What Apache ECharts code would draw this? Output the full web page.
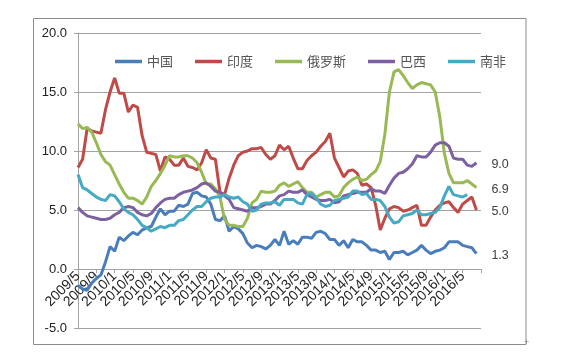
<!DOCTYPE html>
<html><head><meta charset="utf-8">
<script src="https://cdn.jsdelivr.net/npm/echarts@6/dist/echarts.min.js"></script>
<style>html,body{margin:0;padding:0;background:#fff}#c{width:569px;height:358px}</style>
</head><body><div id="c"></div>
<script>
// monthly categories 2009/5 .. 2016/9 (last one only closes the axis)
const startYear = 2009, startMonth = 5, monthCount = 89;
const months = [];
for (let k = 0; k < monthCount; k++) {
  const m = startMonth - 1 + k;
  months.push((startYear + Math.floor(m / 12)) + '/' + (m % 12 + 1));
}
const tickLabels = ['2009/5','2009/9','2010/1','2010/5','2010/9','2011/1','2011/5','2011/9',
  '2012/1','2012/5','2012/9','2013/1','2013/5','2013/9','2014/1','2014/5','2014/9',
  '2015/1','2015/5','2015/9','2016/1','2016/5'];
const yTicks = [-5, 0, 5, 10, 15, 20];

const china = [-1.4,-1.7,-1.8,-1.2,-0.8,-0.5,0.6,1.9,
  1.5,2.7,2.4,2.8,3.1,2.9,3.3,3.5,3.6,4.4,5.1,4.6,
  4.9,4.9,5.4,5.3,5.5,6.4,6.5,6.2,6.1,5.5,4.2,4.1,
  4.5,3.2,3.6,3.4,3.0,2.2,1.8,2.0,1.9,1.7,2.0,2.5,
  2.0,3.2,2.1,2.4,2.1,2.7,2.7,2.6,3.1,3.2,3.0,2.5,
  2.5,2.0,2.4,1.8,2.5,2.3,2.3,2.0,1.6,1.6,1.4,1.5,
  0.8,1.4,1.4,1.5,1.2,1.4,1.6,2.0,1.6,1.3,1.5,1.6,
  1.8,2.3,2.3,2.3,2.0,1.9,1.8,1.3];
const india = [8.6,9.3,11.9,11.7,11.6,11.5,13.5,15.0,
  16.2,14.9,14.9,13.3,13.9,13.7,11.3,9.9,9.8,9.7,8.3,9.5,
  9.3,8.8,8.8,9.4,8.7,8.6,8.4,9.0,10.1,9.4,9.3,6.5,
  6.3,7.7,8.8,9.6,9.9,10.0,10.2,10.2,10.3,9.7,9.3,9.6,
  10.5,10.1,10.4,9.4,8.5,8.5,9.2,9.6,9.9,10.4,10.8,11.5,
  9.4,8.6,7.8,8.3,8.4,8.1,7.1,7.2,6.9,5.4,3.3,4.3,
  5.1,5.3,5.2,4.9,5.0,5.2,5.4,3.7,3.7,4.4,5.0,5.4,
  5.6,5.7,5.2,4.8,5.5,5.8,6.1,5.0];
const russia = [12.3,11.9,12.0,11.6,10.7,9.7,9.1,8.8,
  8.0,7.2,6.5,6.0,6.0,5.8,5.5,6.1,7.0,7.5,8.1,8.8,
  9.6,9.5,9.5,9.6,9.6,9.4,9.0,8.2,7.2,7.2,6.8,6.1,
  4.2,3.7,3.7,3.6,3.6,4.3,5.6,5.9,6.6,6.5,6.5,6.6,
  7.1,7.3,7.0,7.2,7.4,6.9,6.5,6.5,6.1,6.3,6.5,6.5,
  6.1,6.2,6.9,7.3,7.6,7.8,7.5,7.6,8.0,8.3,9.1,11.4,
  15.0,16.7,16.9,16.4,15.8,15.3,15.6,15.8,15.7,15.6,15.0,12.9,
  9.8,8.1,7.3,7.3,7.3,7.5,7.2,6.9];
const brazil = [5.2,4.8,4.5,4.4,4.3,4.2,4.2,4.3,
  4.6,4.8,5.2,5.3,5.2,4.8,4.6,4.5,4.7,5.2,5.6,5.9,
  6.0,6.0,6.3,6.5,6.6,6.7,6.9,7.2,7.3,7.0,6.6,6.5,
  6.2,5.9,5.2,5.1,5.0,4.9,5.2,5.2,5.3,5.5,5.5,5.8,
  6.2,6.3,6.6,6.5,6.5,6.7,6.3,6.1,5.9,5.8,5.8,5.9,
  5.6,5.7,6.2,6.3,6.4,6.5,6.5,6.5,6.8,6.6,6.6,6.4,
  7.1,7.7,8.1,8.2,8.5,8.9,9.6,9.5,9.5,9.9,10.5,10.7,
  10.7,10.4,9.4,9.3,9.3,8.8,8.7,9.0];
const southAfrica = [8.0,6.9,6.7,6.4,6.1,5.9,5.8,6.3,
  6.2,5.7,5.1,4.8,4.6,4.2,3.7,3.5,3.2,3.4,3.6,3.5,
  3.7,3.7,4.1,4.2,4.6,5.0,5.3,5.3,5.7,6.0,6.1,6.1,
  6.3,6.1,6.0,6.1,5.7,5.5,4.9,5.0,5.5,5.6,5.6,5.7,
  5.4,5.9,5.9,5.9,5.6,5.5,6.3,6.4,6.0,5.5,5.3,5.4,
  5.8,5.9,6.0,6.1,6.6,6.6,6.3,6.4,5.9,5.9,5.8,5.3,
  4.4,3.9,4.0,4.5,4.6,4.7,5.0,4.6,4.6,4.7,4.8,5.2,
  6.2,7.0,6.3,6.2,6.1,6.3];

const seriesNames = ['中国','印度','俄罗斯','巴西','南非'];
const seriesData = [china, india, russia, brazil, southAfrica];
const colors = ['#4A7EBB','#BE4B48','#98B954','#7D60A0','#46AAC5'];
const showEnd = [true, true, true, true, false];

const gridColor = '#a3a3a3';
const gridTop = 33, gridBottom = 30, chartH = 358;
// distance of the zero line above the grid bottom, from the y range
const plotH = chartH - gridTop - gridBottom;
const zeroOffset = plotH * (0 - yTicks[0]) / (yTicks[yTicks.length - 1] - yTicks[0]);

const chart = echarts.init(document.getElementById('c'));
chart.setOption({
  animation: false,
  backgroundColor: '#fff',
  color: colors,
  grid: {left: 78, right: 88, top: gridTop, bottom: gridBottom, containLabel: false,
         outerBoundsMode: 'none'},
  legend: {
    data: seriesNames, left: 115, top: 55, padding: 0,
    icon: 'rect', itemWidth: 27, itemHeight: 3.5, itemGap: 22,
    textStyle: {fontSize: 13, color: '#555', fontFamily: 'Noto Sans CJK SC'}
  },
  xAxis: {
    type: 'category', data: months, boundaryGap: false,
    offset: -zeroOffset,
    axisLine: {show: true, onZero: false, lineStyle: {color: gridColor, width: 1}},
    axisTick: {show: true, interval: 3, length: 4, lineStyle: {color: gridColor}},
    axisLabel: {
      interval: 0, rotate: 45, margin: 5, fontSize: 14, color: '#222',
      fontFamily: 'Liberation Sans', hideOverlap: false,
      formatter: (v, i) => (i % 4 === 0 ? (tickLabels[i / 4] || '') : '')
    },
    splitLine: {show: false}
  },
  yAxis: {
    type: 'value', min: yTicks[0], max: yTicks[yTicks.length - 1], interval: 5,
    axisLine: {show: true, lineStyle: {color: gridColor, width: 1}},
    axisTick: {show: true, length: 4, lineStyle: {color: gridColor}},
    axisLabel: {formatter: v => v.toFixed(1), fontSize: 13, color: '#222',
      fontFamily: 'Liberation Sans', margin: 11},
    splitLine: {show: true, lineStyle: {color: gridColor, width: 1}}
  },
  series: seriesNames.map((n, k) => ({
    name: n, type: 'line', data: seriesData[k], symbol: 'none', smooth: false,
    lineStyle: {width: 3, color: colors[k]}, itemStyle: {color: colors[k]},
    endLabel: {
      show: showEnd[k], formatter: p => Number(p.value).toFixed(1),
      distance: 15, offset: [0, 2], color: '#404040', fontSize: 12.5,
      fontFamily: 'Liberation Sans'
    }
  })),
  graphic: [
    {type: 'rect', shape: {x: 33.5, y: 18.5, width: 492.5, height: 326},
     style: {fill: 'none', stroke: '#8c8c8c', lineWidth: 1}, silent: true, z: -1},
    {type: 'text', left: 524, top: 338, style: {text: '+', fill: '#888', fontSize: 9}}
  ]
});
</script></body></html>
